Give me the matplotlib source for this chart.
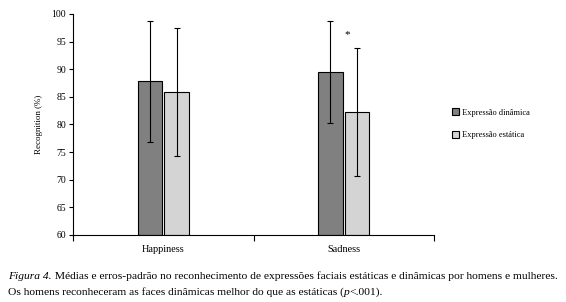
import matplotlib
matplotlib.use("Agg")
import matplotlib.pyplot as plt
import numpy as np

categories = ["Happiness", "Sadness"]
series_names = ["Expressão dinâmica", "Expressão estática"]
dynamic_mean = [87.8, 89.5]
dynamic_se = [11.0, 9.2]
static_mean = [85.8, 82.2]
static_se = [11.6, 11.6]
yticks = [60, 65, 70, 75, 80, 85, 90, 95, 100]
caption_label = "Figura 4."
caption_line1 = " Médias e erros-padrão no reconhecimento de expressões faciais estáticas e dinâmicas por homens e mulheres."
caption_line2_a = "Os homens reconheceram as faces dinâmicas melhor do que as estáticas ("
caption_line2_p = "p"
caption_line2_b = "<.001)."

plt.rcParams['font.family'] = ['Liberation Serif', 'DejaVu Serif']

W, H = 566, 302
fig = plt.figure(figsize=(W / 100, H / 100), dpi=100)
ax = fig.add_axes([0.129, 0.222, 0.638, 0.732])

x = np.arange(len(categories))
w = 0.136
off = 0.074
ax.bar(x - off, [m - 60 for m in dynamic_mean], width=w, bottom=60, color="#808080",
       edgecolor="black", linewidth=0.8, label=series_names[0])
ax.bar(x + off, [m - 60 for m in static_mean], width=w, bottom=60, color="#d4d4d4",
       edgecolor="black", linewidth=0.8, label=series_names[1])
ax.errorbar(x - off, dynamic_mean, yerr=dynamic_se, fmt="none", ecolor="black",
            elinewidth=0.8, capsize=2.5, capthick=0.8)
ax.errorbar(x + off, static_mean, yerr=static_se, fmt="none", ecolor="black",
            elinewidth=0.8, capsize=2.5, capthick=0.8)

ax.text(1 + 0.02, 96.2, "*", ha="center", va="center", fontsize=8)

ax.set_xlim(-0.5, 1.5)
ax.set_ylim(60, 100)
ax.set_yticks(yticks)
ax.set_yticklabels([str(t) for t in yticks], fontsize=7)
ax.set_xticks([-0.5, 0.5, 1.5])
ax.set_xticklabels([])
ax.set_xticks(x, minor=True)
ax.set_xticklabels(categories, minor=True, fontsize=7.4)
ax.tick_params(axis="x", which="minor", length=0, pad=7)
ax.tick_params(axis="x", which="major", length=4, width=0.8, direction="out")
ax.tick_params(axis="y", length=3, width=0.8, direction="out", pad=2)
for s in ["top", "right"]:
    ax.spines[s].set_visible(False)
for s in ["left", "bottom"]:
    ax.spines[s].set_linewidth(0.8)

ax.set_ylabel("Recognition (%)", fontsize=6.5, labelpad=6)

fig.legend(loc="upper left", bbox_to_anchor=(0.792, 0.652), frameon=False,
           fontsize=6, handlelength=0.9, handleheight=0.9, handletextpad=0.4,
           labelspacing=1.7, borderaxespad=0)

# caption, built from pieces so "Figura 4." and "p" are italic
fs = 8.6
renderer = fig.canvas.get_renderer()

def put(xpx, ybase, s, style):
    t = fig.text(xpx / W, 1 - ybase / H, s, fontsize=fs, style=style, va="baseline", ha="left")
    bb = t.get_window_extent(renderer=renderer)
    return xpx + bb.width

probe1 = fig.text(0, 0, caption_label, fontsize=fs, style="italic")
probe2 = fig.text(0, 0, caption_line1, fontsize=fs)
wtot = probe1.get_window_extent(renderer=renderer).width + probe2.get_window_extent(renderer=renderer).width
probe1.remove(); probe2.remove()
fs = fs * 550.0 / wtot

xp = put(8, 279, caption_label, "italic")
put(xp, 279, caption_line1, "normal")
xp = put(8, 295, caption_line2_a, "normal")
xp = put(xp, 295, caption_line2_p, "italic")
put(xp, 295, caption_line2_b, "normal")

fig.savefig("out.png", dpi=100)
